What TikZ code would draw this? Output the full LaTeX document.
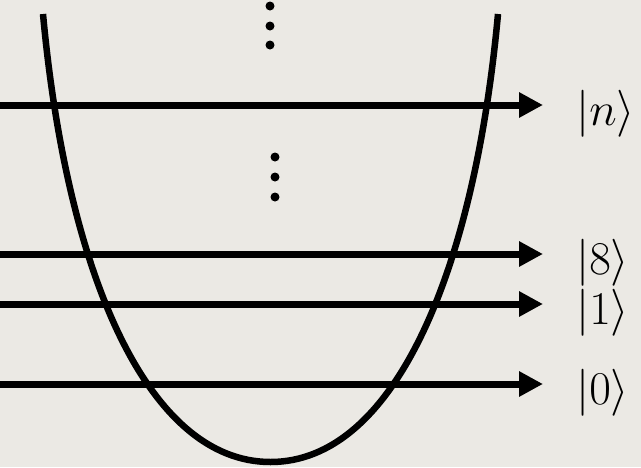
\RequirePackage{fix-cm}
\documentclass[tikz,border=0pt]{standalone}
\usetikzlibrary{arrows.meta}
\definecolor{bg}{RGB}{235,233,228}
\begin{document}
\begin{tikzpicture}[x=1pt,y=-1pt,
  arr/.style={line width=7pt,-{Triangle[length=24pt,width=24pt]}},
  well/.style={line width=6.5pt},
  dot/.style={fill=black,circle,inner sep=0pt,minimum size=9pt},
  ket/.style={anchor=base west,inner sep=0pt,font=\fontsize{47}{47}\selectfont}]
\fill[bg] (0,0) rectangle (641,467);
\useasboundingbox (0,0) rectangle (641,467);
\draw[well] (43,14) .. controls (67,275) and (148,462) .. (270.5,462)
                    .. controls (393,462) and (474,275) .. (498,14);
\foreach \y/\k in {105/n,254/8,304/1,384/0}{
  \coordinate (s\k) at (0,\y);
  \coordinate (e\k) at (543,\y);
  \draw[arr] (s\k) -- (e\k);
  \node[ket] (l\k) at (576,\y+20) {$|\k\rangle$};
}
\foreach \y [count=\i] in {6,26,45}{\node[dot] (t\i) at (270,\y) {};}
\foreach \y [count=\i] in {157,177,197}{\node[dot] (m\i) at (275,\y) {};}
\end{tikzpicture}
\end{document}
